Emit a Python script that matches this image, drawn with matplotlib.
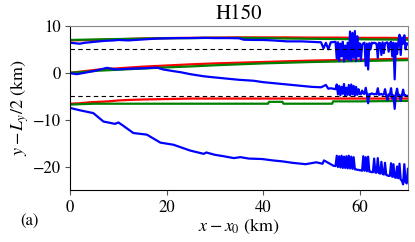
import matplotlib
matplotlib.use("Agg")
import matplotlib.pyplot as plt

plt.rcParams["font.family"] = "STIXGeneral"
plt.rcParams["mathtext.fontset"] = "stix"

# shared dense x grid for the noisy tail (km)
x_tail = [55.25, 55.5, 55.75, 56, 56.25, 56.5, 56.75, 57, 57.25, 57.5, 57.75, 58,
          58.25, 58.5, 58.75, 59, 59.25, 59.5, 59.75, 60, 60.25, 60.5, 60.75, 61,
          61.25, 61.5, 61.75, 62, 62.25, 62.5, 62.75, 63, 63.25, 63.5, 63.75, 64,
          64.25, 64.5, 64.75, 65, 65.25, 65.5, 65.75, 66, 66.25, 66.5, 66.75, 67,
          67.25, 67.5, 67.75, 68, 68.25, 68.5, 68.75, 69, 69.25, 69.5, 69.75, 70]

# upper edge
x_top = [0, 5, 10, 15, 20, 25, 30, 35, 40, 45, 50, 55, 60, 65, 70]
red_top = [6.9, 7.0, 7.15, 7.3, 7.4, 7.45, 7.5, 7.55, 7.55, 7.55, 7.5, 7.5, 7.45, 7.45, 7.4]
green_top = [7.0, 7.1, 7.2, 7.3, 7.35, 7.4, 7.45, 7.45, 7.4, 7.3, 7.25, 7.2, 7.15, 7.1, 7.05]

x_blue_top = [0, 1, 2, 3, 5, 7, 9, 10, 12, 15, 18, 20, 22, 25, 28, 30, 33, 35, 36, 38,
              40, 42, 45, 48, 50, 52, 52.5, 53, 53.5, 54, 55]
blue_top = [6.4, 6.3, 6.2, 6.4, 6.6, 6.8, 6.9, 7.0, 6.9, 7.1, 7.3, 7.35, 7.4, 7.4, 7.45,
            7.4, 7.4, 7.35, 7.05, 7.0, 7.0, 6.9, 6.7, 6.7, 6.6, 6.5, 5.2, 6.4, 5.0, 6.5, 6.6]
blue_top_tail = [3.0, 6.5, 2.5, 6.2, 3.5, 6.6, 2.4, 5.8, 3.0, 6.4, 2.8, 8.8,
                 2.6, 8.5, 3.2, 8.9, 2.5, 7.8, 3.5, 6.3, 2.6, 6.0, 6.3, 6.4,
                 1.5, 6.2, 0.7, 6.3, 5.0, 6.4, 6.3, 6.4, 6.3, 6.2, 3.2, 6.4,
                 6.3, 3.8, 6.5, 4.2, 6.3, 6.4, 6.5, 4.5, 6.3, 6.6, 3.5, 6.4,
                 -1.4, 6.3, 4.0, 6.5, 8.1, 3.8, 7.5, 6.2, 8.0, 5.0, 6.3, 6.1]

# centre line
x_mid = [0, 3, 6, 10, 15, 20, 25, 30, 35, 40, 45, 50, 55, 60, 65, 70]
red_mid = [0.0, 0.35, 0.7, 0.95, 1.3, 1.55, 1.8, 2.0, 2.15, 2.3, 2.45, 2.6, 2.7, 2.8, 2.9, 3.0]
green_mid = [0.0, 0.2, 0.45, 0.65, 0.9, 1.15, 1.35, 1.6, 1.8, 2.0, 2.15, 2.3, 2.4, 2.5, 2.6, 2.7]

x_blue_mid = [0, 1.4, 3, 5, 6.2, 7.6, 9.5, 12, 15, 18, 19.3, 21.4, 23, 24.9, 27.7,
              30, 33, 35, 38, 40, 43, 45, 48, 50, 52, 53, 53.5, 54, 55]
blue_mid = [-0.1, -0.3, 0.0, 0.4, 0.7, 1.05, 0.7, 0.85, 0.95, 1.1, 0.7, 0.35, 0.1, -0.3, -0.75,
            -1.0, -1.3, -1.5, -1.7, -2.0, -2.3, -2.5, -2.8, -3.0, -3.1, -2.6, -3.4, -3.3, -3.5]
blue_mid_tail = [-2.5, -4.6, -2.8, -4.8, -3.0, -4.5, -2.4, -4.9, -3.2, -4.7, -2.6, -4.8,
                 -2.5, -4.6, -2.8, -4.9, -3.0, -4.7, -3.5, -4.5, -4.6, -3.8, -4.4, -4.5,
                 -3.2, -4.6, -6.5, -4.5, -4.6, -4.4, -4.5, -4.6, -4.5, -4.6, -3.3, -4.7,
                 -4.6, -4.5, -4.7, -4.6, -3.5, -4.8, -5.8, -4.6, -4.7, -3.3, -5.5, -4.8,
                 -7.7, -4.6, -3.4, -5.0, -4.7, -6.0, -4.8, -3.6, -4.9, -4.8, -5.0, -4.9]

# lower edge
x_red_low = [0, 2, 4, 6, 8, 10, 12, 15, 20, 25, 30, 35, 40, 45, 50, 55, 60, 65, 70]
red_low = [-6.6, -6.5, -6.3, -6.2, -6.1, -5.9, -5.8, -5.7, -5.6, -5.5, -5.5, -5.5,
           -5.5, -5.5, -5.5, -5.5, -5.5, -5.5, -5.5]
x_green_low = [0, 2, 5, 10, 20, 30, 41, 41.2, 44, 44.2, 50, 54.3, 54.5, 60, 70]
green_low = [-6.8, -6.7, -6.6, -6.6, -6.6, -6.6, -6.6, -6.2, -6.2, -6.6, -6.6, -6.6,
             -6.1, -6.1, -6.0]

x_blue_low = [0, 2, 4.8, 6.9, 9.3, 10, 11, 13.1, 15.9, 18.7, 21.4, 24.9, 27.7, 28.2, 30,
              31.8, 33.9, 35.3, 37, 39.8, 42, 44, 46, 48.8, 51, 52.3, 52.6, 54.6, 55]
blue_low = [-7.5, -8.0, -8.6, -10.4, -10.9, -10.6, -11.3, -12.85, -13.2, -14.9, -15.35,
            -16.6, -17.3, -17.0, -17.5, -17.8, -18.2, -18.0, -18.3, -18.4, -18.7, -18.9,
            -19.2, -19.5, -19.1, -19.4, -18.7, -19.85, -19.9]
blue_low_tail = [-17.7, -20.1, -17.8, -20.2, -17.7, -20.3, -17.9, -20.3, -17.8, -20.4, -17.7, -20.4,
                 -17.9, -20.5, -18.0, -20.6, -20.6, -20.7, -20.7, -20.8, -20.8, -20.9, -17.8, -20.9,
                 -18.0, -21.0, -17.9, -21.1, -21.1, -21.2, -21.2, -18.3, -21.3, -21.3, -18.2, -21.4,
                 -21.5, -19.0, -21.6, -21.7, -19.2, -21.8, -21.9, -22.0, -22.0, -19.3, -22.2, -19.5,
                 -22.3, -22.4, -20.0, -22.5, -19.4, -22.8, -23.0, -23.8, -19.5, -23.3, -23.6, -20.5]

fig = plt.figure(figsize=(4.15, 2.42), dpi=100)
ax = fig.add_axes([0.169, 0.215, 0.814, 0.678])

lw = 1.6
ax.plot(x_top, red_top, color="red", lw=lw)
ax.plot(x_top, green_top, color="green", lw=lw)
ax.plot(x_mid, red_mid, color="red", lw=lw)
ax.plot(x_mid, green_mid, color="green", lw=lw)
ax.plot(x_red_low, red_low, color="red", lw=lw)
ax.plot(x_green_low, green_low, color="green", lw=lw)
ax.plot(x_blue_top + x_tail, blue_top + blue_top_tail, color="blue", lw=lw)
ax.plot(x_blue_mid + x_tail, blue_mid + blue_mid_tail, color="blue", lw=lw)
ax.plot(x_blue_low + x_tail, blue_low + blue_low_tail, color="blue", lw=lw)

for yy in (5, -5):
    ax.axhline(yy, color="black", lw=0.8, ls=(0, (4, 3)), zorder=5)

ax.set_xlim(0, 70)
ax.set_ylim(-25, 10)
ax.set_xticks([0, 20, 40, 60])
ax.set_yticks([-20, -10, 0, 10])
ax.tick_params(labelsize=12, length=3.5, color="#555555")
for s in ("top", "right"):
    ax.spines[s].set_color("#888888")

ax.set_title("H150", fontsize=15, pad=5)
ax.set_xlabel(r"$x - x_0$ (km)", fontsize=13, labelpad=1)
ax.set_ylabel(r"$y - L_y/2$ (km)", fontsize=13, labelpad=1)
fig.text(0.072, 0.087, "(a)", fontsize=12, ha="center", va="center")

fig.savefig("out.png", dpi=100)
